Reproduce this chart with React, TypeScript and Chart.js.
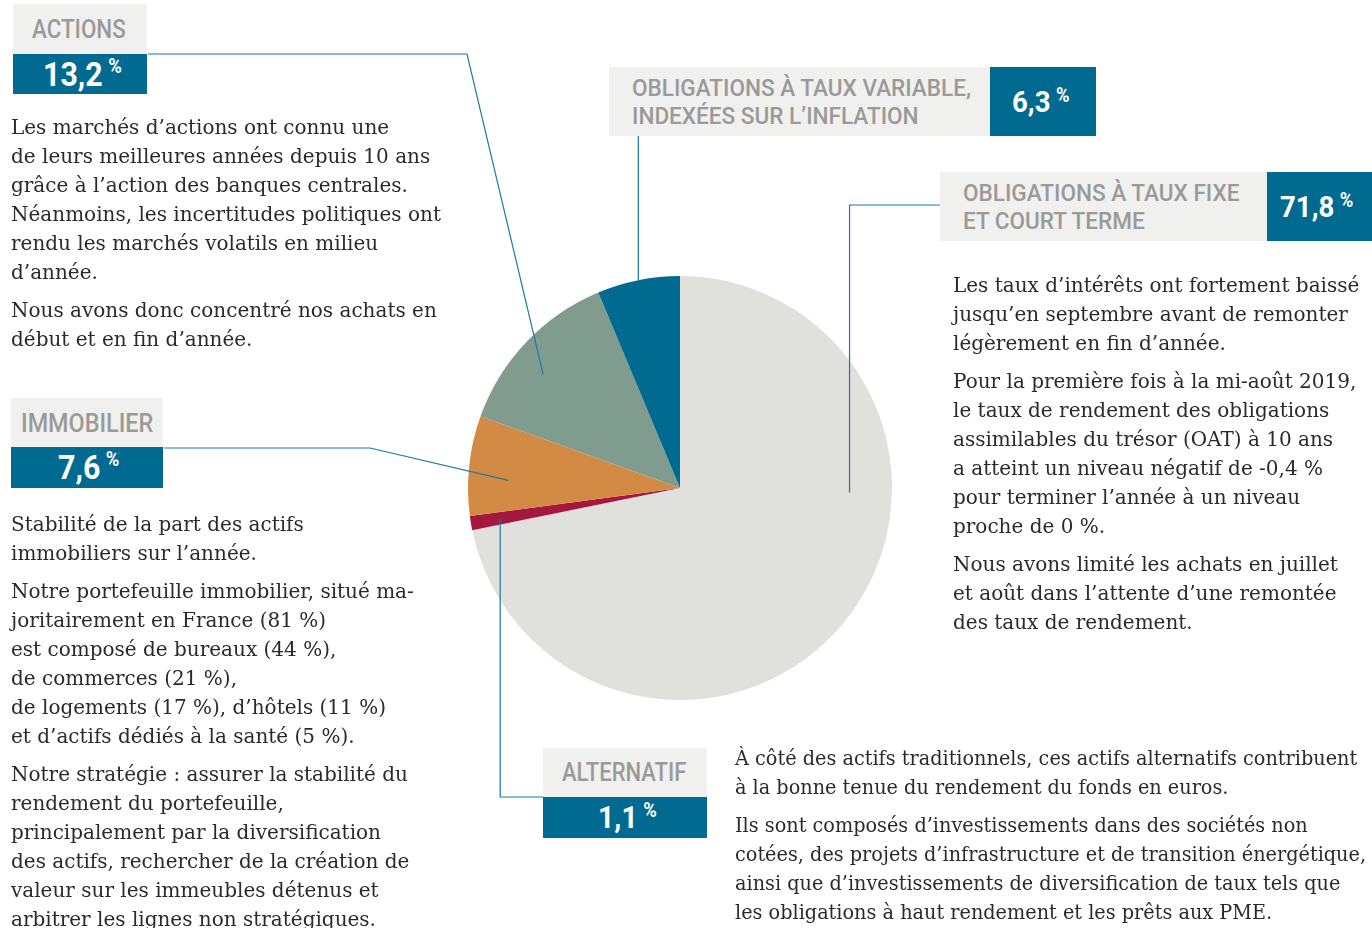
import React, { useEffect, useRef } from "react";
import { Chart, registerables } from "chart.js";

Chart.register(...registerables);

// ---- data ----
const categories = [
  "Obligations à taux fixe et court terme",
  "Alternatif",
  "Immobilier",
  "Actions",
  "Obligations à taux variable, indexées sur l’inflation",
];
const values = [71.8, 1.1, 7.6, 13.2, 6.3];
const valueLabels = ["71,8", "1,1", "7,6", "13,2", "6,3"];
const sliceColors = ["#e0e0dc", "#a6173f", "#d38a45", "#809c8f", "#006a91"];

const actionsText = [
  [
    "Les marchés d’actions ont connu une",
    "de leurs meilleures années depuis 10 ans",
    "grâce à l’action des banques centrales.",
    "Néanmoins, les incertitudes politiques ont",
    "rendu les marchés volatils en milieu",
    "d’année.",
  ],
  ["Nous avons donc concentré nos achats en", "début et en fin d’année."],
];
const immoText = [
  ["Stabilité de la part des actifs", "immobiliers sur l’année."],
  [
    "Notre portefeuille immobilier, situé ma-",
    "joritairement en France (81 %)",
    "est composé de bureaux (44 %),",
    "de commerces (21 %),",
    "de logements (17 %), d’hôtels (11 %)",
    "et d’actifs dédiés à la santé (5 %).",
  ],
  [
    "Notre stratégie : assurer la stabilité du",
    "rendement du portefeuille,",
    "principalement par la diversification",
    "des actifs, rechercher de la création de",
    "valeur sur les immeubles détenus et",
    "arbitrer les lignes non stratégiques.",
  ],
];
const fixeText = [
  [
    "Les taux d’intérêts ont fortement baissé",
    "jusqu’en septembre avant de remonter",
    "légèrement en fin d’année.",
  ],
  [
    "Pour la première fois à la mi-août 2019,",
    "le taux de rendement des obligations",
    "assimilables du trésor (OAT) à 10 ans",
    "a atteint un niveau négatif de -0,4 %",
    "pour terminer l’année à un niveau",
    "proche de 0 %.",
  ],
  [
    "Nous avons limité les achats en juillet",
    "et août dans l’attente d’une remontée",
    "des taux de rendement.",
  ],
];
const altText = [
  [
    "À côté des actifs traditionnels, ces actifs alternatifs contribuent",
    "à la bonne tenue du rendement du fonds en euros.",
  ],
  [
    "Ils sont composés d’investissements dans des sociétés non",
    "cotées, des projets d’infrastructure et de transition énergétique,",
    "ainsi que d’investissements de diversification de taux tels que",
    "les obligations à haut rendement et les prêts aux PME.",
  ],
];

// ---- layout ----
const W = 1372;
const H = 928;
const LINE = "#1b7aa5";
const HEAD_BG = "#f0f0ee";
const HEAD_FG = "#9a9a98";
const BLUE = "#006a91";

// leader lines: slice index, angle fraction, radius fraction, fixed path points
type Leader = { idx: number; t: number; r: number; path: (p: { x: number; y: number }) => number[][] };
const leaders: Leader[] = [
  { idx: 3, t: 0.42, r: 0.84, path: (p) => [[148, 54], [467, 54], [p.x, p.y]] },
  { idx: 4, t: 0.5, r: 1.0, path: (p) => [[p.x, 136], [p.x, p.y]] },
  { idx: 0, t: 0.354, r: 0.8, path: (p) => [[940, 205], [p.x, 205], [p.x, p.y]] },
  { idx: 2, t: 0.37, r: 0.81, path: (p) => [[164, 448], [370, 448], [p.x, p.y]] },
  { idx: 1, t: 0.5, r: 0.86, path: (p) => [[543, 797], [p.x, 797], [p.x, p.y]] },
];

const leaderPlugin = {
  id: "leaders",
  afterDatasetsDraw(chart: any) {
    const meta = chart.getDatasetMeta(0);
    const ctx = chart.ctx;
    ctx.save();
    ctx.strokeStyle = LINE;
    ctx.lineWidth = 1.2;
    leaders.forEach((l) => {
      const arc = meta.data[l.idx];
      const { x, y, startAngle, endAngle, outerRadius } = arc.getProps(
        ["x", "y", "startAngle", "endAngle", "outerRadius"],
        true
      );
      const a = startAngle + (endAngle - startAngle) * l.t;
      const p = { x: x + Math.cos(a) * outerRadius * l.r, y: y + Math.sin(a) * outerRadius * l.r };
      const pts = l.path(p);
      ctx.beginPath();
      pts.forEach((pt, i) => (i === 0 ? ctx.moveTo(pt[0], pt[1]) : ctx.lineTo(pt[0], pt[1])));
      ctx.stroke();
    });
    ctx.restore();
  },
};

const bodyFont = '"DejaVu Serif", serif';
const headFont = 'Roboto, "Noto Sans", sans-serif';

function Paragraphs({ paras, left, top, scale = 1 }: { paras: string[][]; left: number; top: number; scale?: number }) {
  return (
    <div
      style={{
        position: "absolute",
        left,
        top,
        fontFamily: bodyFont,
        fontSize: 20,
        lineHeight: "29px",
        color: "#2a2a2a",
        whiteSpace: "nowrap",
        transform: `scaleX(${scale})`,
        transformOrigin: "left top",
      }}
    >
      {paras.map((p, i) => (
        <div key={i} style={{ marginTop: i === 0 ? 0 : 9 }}>
          {p.map((line, j) => (
            <div key={j}>{line}</div>
          ))}
        </div>
      ))}
    </div>
  );
}

function Pct({ value, size }: { value: string; size: number }) {
  return (
    <span
      style={{
        display: "inline-block",
        fontFamily: headFont,
        fontWeight: 700,
        color: "#ffffff",
        fontSize: size,
        lineHeight: 1,
        transform: "scaleX(0.92)",
        transformOrigin: "left center",
        whiteSpace: "nowrap",
      }}
    >
      {value}
      <span
        style={{
          display: "inline-block",
          fontSize: 20,
          fontWeight: 700,
          marginLeft: 6,
          verticalAlign: "top",
          lineHeight: 1,
          position: "relative",
          top: -2,
        }}
      >
        %
      </span>
    </span>
  );
}

function HeadText({ lines, size, scale }: { lines: string[]; size: number; scale: number }) {
  return (
    <div
      style={{
        display: "inline-block",
        fontFamily: headFont,
        fontWeight: 500,
        color: HEAD_FG,
        fontSize: size,
        lineHeight: lines.length > 1 ? "28px" : 1,
        whiteSpace: "nowrap",
        transform: `scaleX(${scale})`,
        transformOrigin: "left center",
      }}
    >
      {lines.map((l, i) => (
        <div key={i}>{l}</div>
      ))}
    </div>
  );
}

function StackBox({
  label,
  value,
  x,
  y,
  w,
  h1,
  h2,
  labelX,
  valueX,
  labelSize,
  valueSize,
  scale,
}: {
  label: string;
  value: string;
  x: number;
  y: number;
  w: number;
  h1: number;
  h2: number;
  labelX: number;
  valueX: number;
  labelSize: number;
  valueSize: number;
  scale: number;
}) {
  return (
    <>
      <div
        style={{
          position: "absolute",
          left: x,
          top: y,
          width: w,
          height: h1,
          background: HEAD_BG,
          display: "flex",
          alignItems: "center",
          boxSizing: "border-box",
          paddingLeft: labelX,
        }}
      >
        <HeadText lines={[label]} size={labelSize} scale={scale} />
      </div>
      <div
        style={{
          position: "absolute",
          left: x,
          top: y + h1,
          width: w,
          height: h2,
          background: BLUE,
          display: "flex",
          alignItems: "center",
          boxSizing: "border-box",
          paddingLeft: valueX,
        }}
      >
        <Pct value={value} size={valueSize} />
      </div>
    </>
  );
}

function WideBox({
  lines,
  value,
  x,
  y,
  w1,
  w2,
  h,
  labelX,
  valueX,
}: {
  lines: string[];
  value: string;
  x: number;
  y: number;
  w1: number;
  w2: number;
  h: number;
  labelX: number;
  valueX: number;
}) {
  return (
    <>
      <div
        style={{
          position: "absolute",
          left: x,
          top: y,
          width: w1,
          height: h,
          background: HEAD_BG,
          display: "flex",
          alignItems: "center",
          boxSizing: "border-box",
          paddingLeft: labelX,
        }}
      >
        <HeadText lines={lines} size={24} scale={0.94} />
      </div>
      <div
        style={{
          position: "absolute",
          left: x + w1,
          top: y,
          width: w2,
          height: h,
          background: BLUE,
          display: "flex",
          alignItems: "center",
          boxSizing: "border-box",
          paddingLeft: valueX,
        }}
      >
        <Pct value={value} size={30} />
      </div>
    </>
  );
}

export default function App() {
  const ref = useRef<HTMLCanvasElement | null>(null);

  useEffect(() => {
    if (!ref.current) return;
    const chart = new Chart(ref.current, {
      type: "pie",
      data: {
        labels: categories,
        datasets: [
          {
            data: values,
            backgroundColor: sliceColors,
            borderWidth: 0,
          },
        ],
      },
      options: {
        responsive: false,
        animation: false,
        layout: { padding: { top: 276, bottom: 228, left: 468, right: 480 } },
        plugins: {
          legend: { display: false },
          tooltip: { enabled: false },
        },
      },
      plugins: [leaderPlugin],
    });
    return () => chart.destroy();
  }, []);

  return (
    <div style={{ position: "fixed", left: 0, top: 0, width: W, height: H, background: "#ffffff", overflow: "hidden" }}>
      <canvas ref={ref} width={W} height={H} style={{ position: "absolute", left: 0, top: 0, width: W, height: H }} />

      <StackBox label="ACTIONS" value={valueLabels[3]} x={13} y={4} w={134} h1={50} h2={40} labelX={19} valueX={30} labelSize={26} valueSize={33} scale={0.86} />
      <StackBox label="IMMOBILIER" value={valueLabels[2]} x={11} y={398} w={152} h1={49} h2={41} labelX={10} valueX={47} labelSize={26} valueSize={33} scale={0.9} />
      <StackBox label="ALTERNATIF" value={valueLabels[1]} x={543} y={748} w={164} h1={49} h2={41} labelX={19} valueX={55} labelSize={25} valueSize={31} scale={0.88} />

      <WideBox lines={["OBLIGATIONS À TAUX VARIABLE,", "INDEXÉES SUR L’INFLATION"]} value={valueLabels[4]} x={609} y={67} w1={381} w2={106} h={69} labelX={23} valueX={22} />
      <WideBox lines={["OBLIGATIONS À TAUX FIXE", "ET COURT TERME"]} value={valueLabels[0]} x={940} y={172} w1={327} w2={105} h={69} labelX={23} valueX={13} />

      <Paragraphs paras={actionsText} left={11} top={113} />
      <Paragraphs paras={immoText} left={11} top={510} />
      <Paragraphs paras={fixeText} left={953} top={271} />
      <Paragraphs paras={altText} left={735} top={744} scale={0.963} />
    </div>
  );
}
